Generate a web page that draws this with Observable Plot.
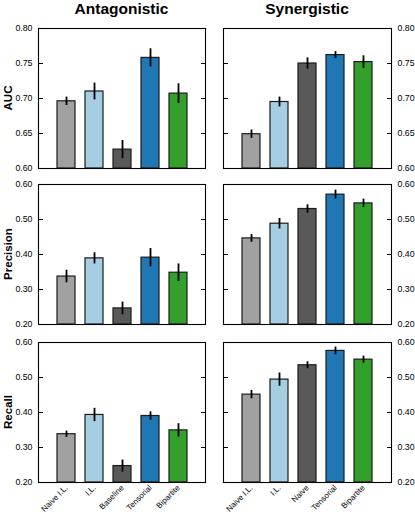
<!DOCTYPE html>
<html><head><meta charset="utf-8">
<script src="https://cdn.jsdelivr.net/npm/d3@7"></script>
<script src="https://cdn.jsdelivr.net/npm/@observablehq/plot@0.6"></script>
<style>
body{margin:0;background:#fff;}
#wrap{position:relative;width:415px;height:516px;font-family:"Liberation Sans",Arial,sans-serif;overflow:hidden;}
.p{position:absolute;}
.title{position:absolute;font-weight:bold;font-size:15.5px;line-height:15px;text-align:center;white-space:nowrap;}
.ylab{position:absolute;font-weight:bold;font-size:11.5px;line-height:14px;height:14px;width:100px;text-align:center;transform:rotate(-90deg);white-space:nowrap;}
</style></head><body><div id="wrap"></div><script>
// ---- data ----
const methodsAnt = ["Naive I.L.", "I.L.", "Baseline", "Tensorial", "Bipartite"];
const methodsSyn = ["Naive I.L.", "I.L.", "Naive", "Tensorial", "Bipartite"];
const barColors = ["#a0a0a0", "#a6cee3", "#595959", "#1f78b4", "#33a02c"];
const columnTitles = ["Antagonistic", "Synergistic"];
const rowLabels = ["AUC", "Precision", "Recall"];

const aucAnt = [0.696, 0.710, 0.627, 0.758, 0.707];
const aucAntErr = [0.006, 0.012, 0.013, 0.013, 0.014];
const aucSyn = [0.649, 0.695, 0.750, 0.762, 0.752];
const aucSynErr = [0.006, 0.007, 0.008, 0.005, 0.009];

const precAnt = [0.337, 0.389, 0.246, 0.391, 0.348];
const precAntErr = [0.018, 0.016, 0.018, 0.026, 0.025];
const precSyn = [0.446, 0.488, 0.530, 0.571, 0.546];
const precSynErr = [0.011, 0.015, 0.012, 0.013, 0.012];

const recAnt = [0.338, 0.393, 0.247, 0.390, 0.349];
const recAntErr = [0.009, 0.019, 0.017, 0.012, 0.019];
const recSyn = [0.451, 0.494, 0.535, 0.576, 0.551];
const recSynErr = [0.012, 0.019, 0.010, 0.011, 0.010];

const aucTicks = [0.60, 0.65, 0.70, 0.75, 0.80];
const prTicks = [0.20, 0.30, 0.40, 0.50, 0.60];

// ---- layout ----
const wrap = document.getElementById("wrap");
const frameTops = [28, 184, 342];
const frameH = 140;
const cols = [
  {left: 0, width: 210, mL: 38, mR: 5, side: "left"},
  {left: 210, width: 205, mL: 13, mR: 24, side: "right"}
];

const rows = [
  {ticks: aucTicks, series: [[aucAnt, aucAntErr], [aucSyn, aucSynErr]]},
  {ticks: prTicks, series: [[precAnt, precAntErr], [precSyn, precSynErr]]},
  {ticks: prTicks, series: [[recAnt, recAntErr], [recSyn, recSynErr]]}
];

rows.forEach((row, ri) => {
  const lo = row.ticks[0], hi = row.ticks[row.ticks.length - 1];
  const bottom = ri === rows.length - 1;
  cols.forEach((col, ci) => {
    const methods = ci === 0 ? methodsAnt : methodsSyn;
    const [vals, errs] = row.series[ci];
    const data = methods.map((m, i) => ({m, v: vals[i], e: errs[i], c: barColors[i]}));
    const other = col.side === "left" ? "right" : "left";
    const mT = 10, mB = bottom ? 45 : 10;
    const marks = [
      Plot.barY(data, {x: "m", y1: () => lo, y2: "v", fill: "c", stroke: "#1c1c1c", strokeWidth: 1.2}),
      Plot.ruleX(data, {x: "m", y1: d => d.v - d.e, y2: d => d.v + d.e, stroke: "#000", strokeWidth: 1.8}),
      Plot.frame({stroke: "#000", strokeWidth: 1.1}),
      Plot.axisY({anchor: col.side, ticks: row.ticks, tickFormat: ".2f", tickSize: 5, inset: 5, tickPadding: 6, label: null, fontSize: 8.8}),
      Plot.axisY({anchor: other, ticks: row.ticks, tickFormat: () => "", tickSize: 5, inset: 5, label: null})
    ];
    if (bottom) marks.push(Plot.axisX({tickRotate: -45, tickSize: 0, tickPadding: 4, fontSize: 8, label: null}));
    const svg = Plot.plot({
      width: col.width,
      height: frameH + mT + mB,
      marginLeft: col.mL, marginRight: col.mR, marginTop: mT, marginBottom: mB,
      style: {background: "transparent", overflow: "visible", fontFamily: "Liberation Sans, Arial, sans-serif", fontSize: "8px", color: "#000"},
      x: {type: "band", domain: methods, paddingInner: 0.36, paddingOuter: 0.64, align: 0.5, axis: bottom ? undefined : null, label: null},
      y: {domain: [lo, hi], label: null},
      color: {type: "identity"},
      marks
    });
    svg.classList.add("p");
    svg.style.left = col.left + "px";
    svg.style.top = (frameTops[ri] - mT) + "px";
    wrap.appendChild(svg);
  });
  const yl = document.createElement("div");
  yl.className = "ylab";
  yl.textContent = rowLabels[ri];
  yl.style.left = (7.5 - 50) + "px";
  yl.style.top = (frameTops[ri] + frameH / 2 - 7) + "px";
  wrap.appendChild(yl);
});

columnTitles.forEach((t, ci) => {
  const col = cols[ci];
  const d = document.createElement("div");
  d.className = "title";
  d.textContent = t;
  d.style.left = (col.left + col.mL) + "px";
  d.style.width = (col.width - col.mL - col.mR) + "px";
  d.style.top = "1px";
  wrap.appendChild(d);
});
</script></body></html>
